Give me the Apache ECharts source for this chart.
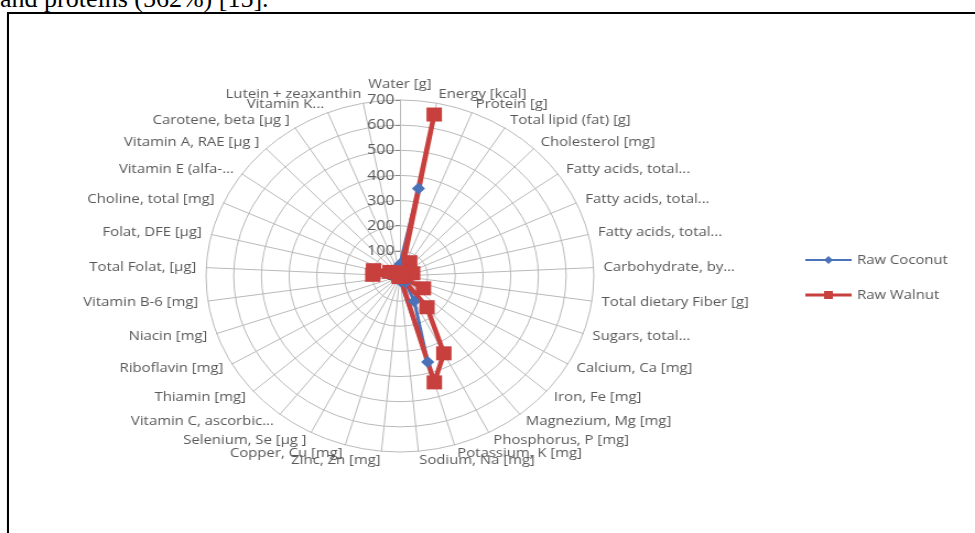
<!DOCTYPE html>
<html><head><meta charset="utf-8">
<script src="https://cdn.jsdelivr.net/npm/echarts@6/dist/echarts.min.js"></script>
<style>
html,body{margin:0;padding:0;width:975px;height:533px;overflow:hidden;background:#fff;}
#cap{position:absolute;left:0;top:-14px;font-family:"Liberation Serif","Times New Roman",serif;font-size:26px;line-height:26px;color:#000;white-space:nowrap;}
#frame{position:absolute;left:7px;top:12px;width:1100px;height:700px;border-left:2px solid #000;border-top:2px solid #000;box-shadow:0 1px 1px #aaa;}
#chart{position:absolute;left:0;top:0;width:885px;height:533px;transform:scaleX(1.1017);transform-origin:0 0;}
</style></head>
<body>
<div id="cap">and proteins (562%) [15].</div>
<div id="frame"></div>
<div id="chart"></div>
<script>
const nutrients = ['Water [g]','Energy [kcal]','Protein [g]','Total lipid (fat) [g]','Cholesterol [mg]',
  'Fatty acids, total...','Fatty acids, total...','Fatty acids, total...','Carbohydrate, by...',
  'Total dietary Fiber [g]','Sugars, total...','Calcium, Ca [mg]','Iron, Fe [mg]','Magnezium, Mg [mg]',
  'Phosphorus, P [mg]','Potassium, K [mg]','Sodium, Na [mg]','Zinc, Zn [mg]','Copper, Cu [mg]',
  'Selenium, Se [µg ]','Vitamin C, ascorbic...','Thiamin [mg]','Riboflavin [mg]','Niacin [mg]',
  'Vitamin B-6 [mg]','Total Folat, [µg]','Folat, DFE [µg]','Choline, total [mg]','Vitamin E (alfa-...',
  'Vitamin A, RAE [µg ]','Carotene, beta [µg ]','Vitamin K...','Lutein + zeaxanthin'];
const rawCoconut = [47, 354, 3.3, 33.5, 0, 29.7, 1.4, 0.4, 15.2, 9, 6.2, 14, 2.4, 32, 113, 356, 20, 1.1, 0.4,
  10.1, 3.3, 0.07, 0.02, 0.54, 0.05, 26, 26, 12.1, 0.24, 0, 0, 0.2, 0];
const rawWalnut = [4.1, 654, 15.2, 65.2, 0, 6.1, 8.9, 47.2, 13.7, 6.7, 2.6, 98, 2.9, 158, 346, 441, 2, 3.1, 1.6,
  4.9, 1.3, 0.34, 0.15, 1.1, 0.54, 98, 98, 39.2, 0.7, 1, 12, 2.7, 9];
const seriesNames = ['Raw Coconut', 'Raw Walnut'];
const radialTicks = [0, 100, 200, 300, 400, 500, 600, 700];

// ECharts lays indicators counter-clockwise; reorder so they run clockwise from the top
const order = [0].concat(nutrients.map((_, i) => nutrients.length - 1 - i).slice(0, nutrients.length - 1));
const reorder = arr => order.map(i => arr[i]);

const axMax = radialTicks[radialTicks.length - 1];
const indicator = reorder(nutrients).map((n, k) => {
  const o = { name: n, min: radialTicks[0], max: axMax };
  if (k === 0) {
    o.axisLabel = { show: true };
    o.axisTick = { show: true };
  }
  return o;
});

const chart = echarts.init(document.getElementById('chart'));
chart.setOption({
  backgroundColor: 'transparent',
  animation: false,
  legend: {
    orient: 'vertical', left: 726, top: 248, itemGap: 21, itemWidth: 42, itemHeight: 10,
    textStyle: { color: '#595959', fontSize: 13.5, fontFamily: 'Open Sans' },
    data: [
      { name: seriesNames[0], icon: 'path://M0,4L42,4L42,6L0,6Z M21,1L25,5L21,9L17,5Z' },
      { name: seriesNames[1], icon: 'path://M0,3.5L42,3.5L42,6.5L0,6.5Z M17,1L25,1L25,9L17,9Z' }
    ]
  },
  radar: {
    center: [363, 276], radius: 176, shape: 'circle', splitNumber: radialTicks.length - 1,
    startAngle: 90,
    axisName: { color: '#595959', fontSize: 13.5, fontFamily: 'Open Sans' },
    nameGap: 9,
    axisLine: { lineStyle: { color: '#b9b9b9', width: 1 } },
    splitLine: { lineStyle: { color: '#b9b9b9', width: 1 } },
    splitArea: { show: false },
    axisTick: { show: false, length: 4, lineStyle: { color: '#888' } },
    axisLabel: { show: false, color: '#595959', fontSize: 14.5, fontFamily: 'Open Sans', margin: 5 },
    indicator: indicator
  },
  series: [{
    type: 'radar',
    data: [
      { name: seriesNames[0], value: reorder(rawCoconut), symbol: 'diamond', symbolSize: 12,
        lineStyle: { color: '#4A72B8', width: 3 }, itemStyle: { color: '#4A72B8' } },
      { name: seriesNames[1], value: reorder(rawWalnut), symbol: 'rect', symbolSize: 14,
        lineStyle: { color: '#C8403E', width: 4.5 }, itemStyle: { color: '#C8403E' } }
    ]
  }]
});
</script>
</body></html>
